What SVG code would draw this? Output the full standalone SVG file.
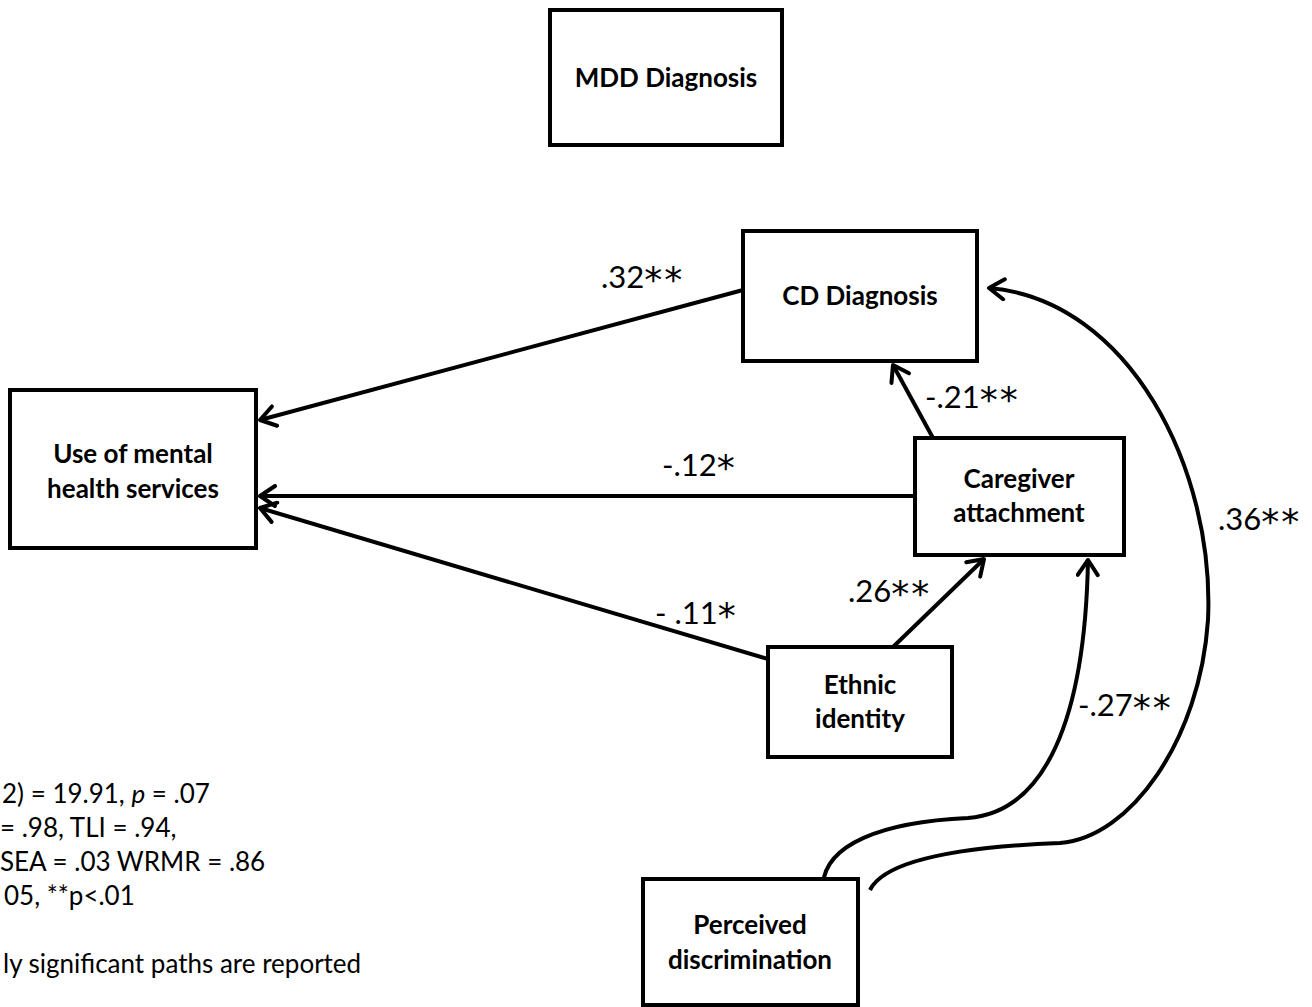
<svg xmlns="http://www.w3.org/2000/svg" width="1312" height="1007" viewBox="0 0 1312 1007">
<style>
.box{fill:#fff;stroke:#000;stroke-width:4}
.nt{font-family:Lato,"Open Sans",sans-serif;font-weight:bold;font-size:26px;text-anchor:middle;fill:#000}
.lb{font-family:Lato,"Open Sans",sans-serif;font-size:31px;fill:#000}
.st{font-family:"DejaVu Sans",sans-serif;font-size:36px;letter-spacing:2px}
.nt2{font-family:Lato,"Open Sans",sans-serif;font-size:26px;fill:#000}
.cn{fill:none;stroke:#000;stroke-width:4;marker-end:url(#ah)}
</style>
<defs>
<marker id="ah" markerUnits="userSpaceOnUse" viewBox="0 0 24 24" markerWidth="24" markerHeight="24" refX="20" refY="12" orient="auto">
<path d="M5,2 L20,12 L5,22" fill="none" stroke="#000" stroke-width="4" stroke-linecap="round" stroke-linejoin="round"/>
</marker>
</defs>
<rect width="1312" height="1007" fill="#fff"/>
<g id="connectors">
<path class="cn" d="M743,290 L260,420"/>
<path class="cn" d="M915,496 L260,496"/>
<path class="cn" d="M768,659 L260,508"/>
<path class="cn" d="M933,438 L893,365"/>
<path class="cn" d="M893,647 L984,559"/>
<path class="cn" d="M823,884 C826,845 880,822 968,818 C1045,812 1085,720 1088,560"/>
<path class="cn" d="M870,890 C885,860 960,847 1060,843 C1130,838 1200,740 1208,620 C1215,470 1130,300 989,288"/>
</g>
<g id="labels">
<text class="lb" x="601" y="288">.32<tspan class="st" dy="4">**</tspan></text>
<text class="lb" x="662" y="476">-.12<tspan class="st" dy="4">*</tspan></text>
<text class="lb" x="655" y="624">- .11<tspan class="st" dy="4">*</tspan></text>
<text class="lb" x="925" y="408">-.21<tspan class="st" dy="4">**</tspan></text>
<text class="lb" x="848" y="602">.26<tspan class="st" dy="4">**</tspan></text>
<text class="lb" x="1078" y="716">-.27<tspan class="st" dy="4">**</tspan></text>
<text class="lb" x="1218" y="530">.36<tspan class="st" dy="4">**</tspan></text>
</g>
<g id="mdd"><rect class="box" x="550" y="10" width="232" height="135"/><text class="nt" x="666" y="87">MDD Diagnosis</text></g>
<g id="cd"><rect class="box" x="743" y="231" width="234" height="130"/><text class="nt" x="860" y="305">CD Diagnosis</text></g>
<g id="use"><rect class="box" x="10" y="390" width="246" height="158"/><text class="nt" x="133" y="463">Use of mental</text><text class="nt" x="133" y="498">health services</text></g>
<g id="caregiver"><rect class="box" x="915" y="438" width="209" height="117"/><text class="nt" x="1019" y="488">Caregiver</text><text class="nt" x="1019" y="522">attachment</text></g>
<g id="ethnic"><rect class="box" x="768" y="647" width="184" height="110"/><text class="nt" x="860" y="694">Ethnic</text><text class="nt" x="860" y="728">identity</text></g>
<g id="perceived"><rect class="box" x="643" y="879" width="215" height="126"/><text class="nt" x="750" y="934">Perceived</text><text class="nt" x="750" y="969">discrimination</text></g>
<g id="note">
<text class="nt2" x="2" y="803">2) = 19.91, <tspan font-style="italic">p</tspan> = .07</text>
<text class="nt2" x="0" y="837">= .98, TLI = .94,</text>
<text class="nt2" x="0" y="871">SEA = .03 WRMR = .86</text>
<text class="nt2" x="4" y="905">05, **p&lt;.01</text>
<text class="nt2" x="3" y="973">ly significant paths are reported</text>
</g>
</svg>
